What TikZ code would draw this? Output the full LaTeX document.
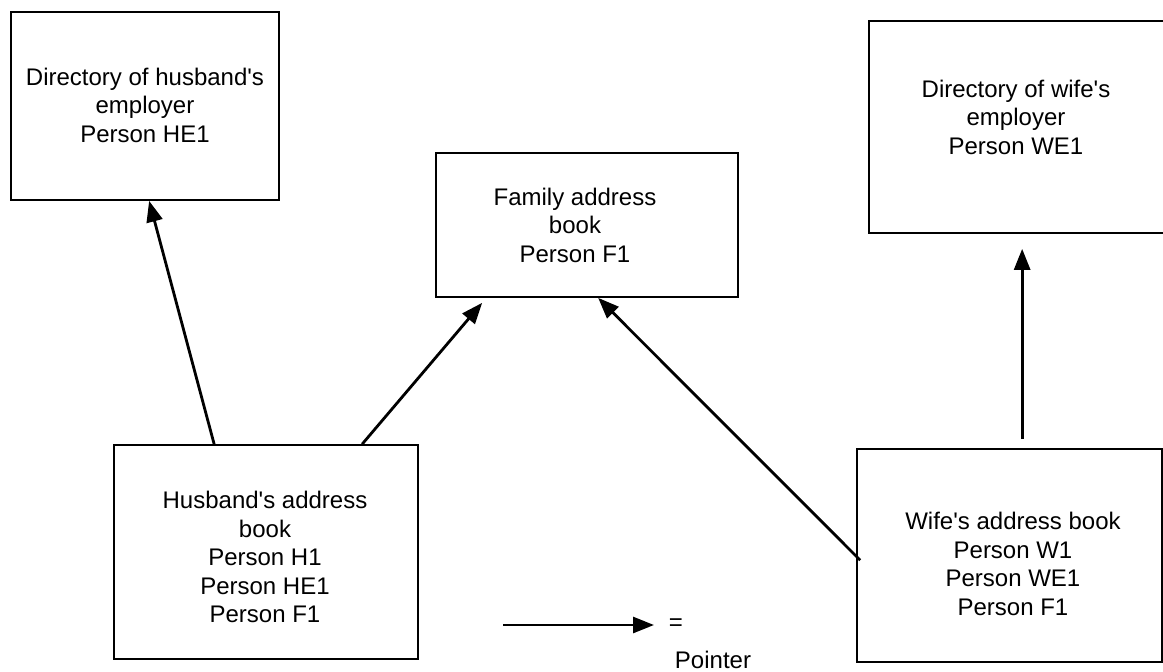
\documentclass[tikz,border=0pt]{standalone}
\usepackage{fontspec}
\setmainfont{Liberation Sans}[Ligatures=ResetAll]
\usetikzlibrary{arrows.meta}
\newcommand\apos{\XeTeXglyph\XeTeXglyphindex "quotesingle" \relax}
\begin{document}
\begin{tikzpicture}[x=1pt,y=-1pt,
  box/.style={draw, line width=1.7pt, rectangle, inner sep=0pt},
  lbl/.style={align=center, font=\fontsize{24}{28.5}\selectfont, inner sep=0pt},
  ptr/.style={line width=2.8pt, -{Triangle[length=21pt,width=16pt]}}]
\useasboundingbox (0,0) rectangle (1163,672);
% boxes
\node[box, minimum width=268pt, minimum height=188pt] (he) at (145,106) {};
\node[box, minimum width=296pt, minimum height=212pt] (we) at (1017,127) {};
\node[box, minimum width=302pt, minimum height=144pt] (f) at (587,225) {};
\node[box, minimum width=304pt, minimum height=214pt] (h) at (266,552) {};
\node[box, minimum width=305pt, minimum height=213pt] (w) at (1009.5,555.5) {};
% texts
\node[lbl] (het) at (145,105) {Directory of husband\apos s\\employer\\Person HE1};
\node[lbl] (wet) at (1016,117) {Directory of wife\apos s\\employer\\Person WE1};
\node[lbl] (ft) at (575,225) {Family address\\book\\Person F1};
\node[lbl] (ht) at (265,557) {Husband\apos s address\\book\\Person H1\\Person HE1\\Person F1};
\node[lbl] (wt) at (1013,564) {Wife\apos s address book\\Person W1\\Person WE1\\Person F1};
% pointers
\draw[ptr] ([xshift=101pt]h.north west) -- ([xshift=139pt]he.south west);
\draw[ptr] ([xshift=249pt]h.north west) -- ([xshift=47pt,yshift=-5pt]f.south west);
\draw[ptr] ([xshift=4pt,yshift=-112pt]w.north west) -- ([xshift=163pt]f.south west);
\draw[ptr] ([xshift=166pt,yshift=9pt]w.north west) -- ([xshift=154pt,yshift=-15pt]we.south west);
% legend
\coordinate (ls) at (503,625);
\coordinate (le) at (654,625);
\draw[ptr] (ls) -- (le);
\node[lbl] (eq) at (676,625) {=};
\node[lbl] (pt) at (713,660) {Pointer};
\end{tikzpicture}
\end{document}
